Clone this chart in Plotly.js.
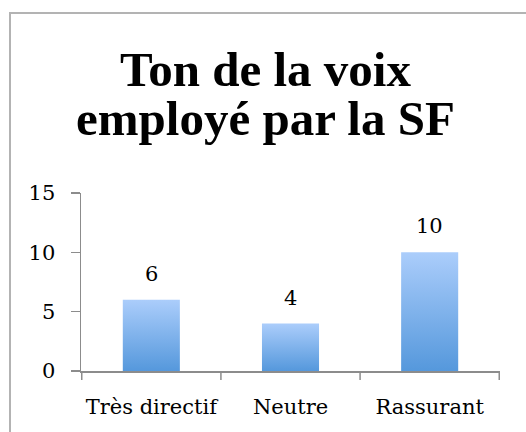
<!DOCTYPE html>
<html>
<head>
<meta charset="utf-8">
<script src="https://cdn.plot.ly/plotly-3.0.1.min.js"></script>
<style>
  html, body { margin: 0; padding: 0; background: #fff; }
  #wrap { position: relative; width: 526px; height: 432px; overflow: hidden; }
  #frame { position: absolute; left: 9px; top: 12px; width: 600px; height: 600px;
           border-left: 2px solid #b3b3b3; border-top: 2px solid #b3b3b3; pointer-events: none; z-index: 5; }
  #chart { position: absolute; left: 0; top: 0; }
</style>
</head>
<body>
<div id="wrap">
  <div id="chart"></div>
  <div id="frame"></div>
</div>
<script>
const categories = ["Très directif", "Neutre", "Rassurant"];
const values = [6, 4, 10];
const yTicks = [0, 5, 10, 15];
const titleLines = ["Ton de la voix", "employé par la SF"];

const labelFont = { family: "DejaVu Serif", size: 21, color: "#000" };

const trace = {
  type: "bar",
  x: categories,
  y: values,
  width: 0.41,
  marker: { color: "#7fb2ec", line: { width: 0 } },
  hoverinfo: "none"
};

const valueLabels = categories.map((c, i) => ({
  x: c, y: values[i], xref: "x", yref: "y",
  text: String(values[i]), showarrow: false,
  yanchor: "bottom", yshift: 12,
  font: labelFont
}));

const titleTops = [40, 89];
const titleAnnotations = titleLines.map((t, i) => ({
  xref: "paper", yref: "paper",
  x: 0.44, xanchor: "center",
  y: 1 + (193 - titleTops[i]) / 178, yanchor: "top",
  text: "<b>" + t + "</b>", showarrow: false,
  font: { family: "Liberation Serif", size: 49, color: "#000" },
  align: "center"
}));

const layout = {
  width: 526, height: 432,
  margin: { l: 81, r: 26, t: 193, b: 61 },
  paper_bgcolor: "#fff", plot_bgcolor: "#fff",
  showlegend: false,
  xaxis: {
    type: "category",
    showline: true, linecolor: "#8c8c8c", linewidth: 1.5,
    ticks: "", showgrid: false, zeroline: false,
    tickfont: labelFont, ticklabelstandoff: 16
  },
  yaxis: {
    range: [0, 15], tickvals: yTicks,
    showline: true, linecolor: "#8c8c8c", linewidth: 1.5,
    ticks: "outside", ticklen: 9, tickcolor: "#8c8c8c", tickwidth: 1.5,
    showgrid: false, zeroline: false,
    tickfont: labelFont, ticklabelstandoff: 11
  },
  shapes: [0, 1, 2, 3].map(k => ({
    type: "line", xref: "x", yref: "paper",
    x0: k - 0.5, x1: k - 0.5, y0: 0, y1: -0.05,
    line: { color: "#8c8c8c", width: 1.5 }
  })),
  annotations: valueLabels.concat(titleAnnotations),
  bargap: 0.59
};

Plotly.newPlot("chart", [trace], layout, { displayModeBar: false, staticPlot: true }).then(gd => {
  const svg = gd.querySelector("svg.main-svg");
  const ns = "http://www.w3.org/2000/svg";
  let defs = svg.querySelector("defs");
  if (!defs) { defs = document.createElementNS(ns, "defs"); svg.insertBefore(defs, svg.firstChild); }
  const lg = document.createElementNS(ns, "linearGradient");
  lg.setAttribute("id", "barGrad");
  lg.setAttribute("x1", "0"); lg.setAttribute("y1", "0");
  lg.setAttribute("x2", "0"); lg.setAttribute("y2", "1");
  [["0", "#abcdfb"], ["1", "#5598dc"]].forEach(([o, c]) => {
    const s = document.createElementNS(ns, "stop");
    s.setAttribute("offset", o); s.setAttribute("stop-color", c);
    lg.appendChild(s);
  });
  defs.appendChild(lg);
  gd.querySelectorAll(".barlayer .point path").forEach(p => {
    p.style.fill = "url(#barGrad)";
  });
});
</script>
</body>
</html>
